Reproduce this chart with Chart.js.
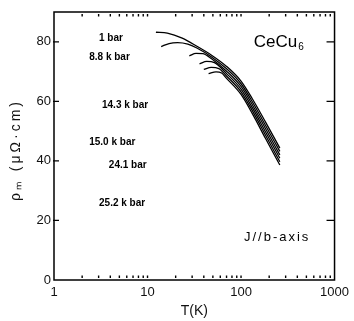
<!DOCTYPE html>
<html>
<head>
<meta charset="utf-8">
<script src="https://cdn.jsdelivr.net/npm/chart.js@4/dist/chart.umd.min.js"></script>
<style>
  html, body { margin: 0; padding: 0; background: #fff; }
</style>
</head>
<body>
<canvas id="rhoChart" width="354" height="321"></canvas>
<script>
// pressure labels, one per curve (top curve first)
const pressures = ["1 bar", "8.8 k bar", "14.3 k bar", "15.0 k bar", "24.1 bar", "25.2 k bar"];

// T (K) and rho_m (micro-ohm cm)
const temp1bar  = [12.3, 16.3, 23.5, 33.7, 48.4, 69.6, 100, 133, 183, 260];
const rho1bar   = [83.2, 82.9, 81.2, 78.5, 75.5, 71.8, 66.8, 60.7, 53.0, 44.3];
const temp8_8   = [14, 17, 21, 27, 33.7, 48.4, 69.6, 100, 133, 183, 260];
const rho8_8    = [78.4, 79.4, 79.7, 79.2, 77.9, 74.9, 71.0, 65.9, 59.7, 51.9, 43.2];
const temp14_3  = [28, 33, 39, 48.4, 69.6, 100, 133, 183, 260];
const rho14_3   = [75.3, 76.1, 76.0, 74.3, 70.2, 65.0, 58.7, 50.8, 42.0];
const temp15_0  = [36, 43, 52, 69.6, 100, 133, 183, 260];
const rho15_0   = [72.6, 73.4, 73.0, 69.4, 64.1, 57.7, 49.7, 40.9];
const temp24_1  = [40, 48, 58, 69.6, 100, 133, 183, 260];
const rho24_1   = [70.7, 71.4, 71.0, 68.6, 63.2, 56.7, 48.6, 39.7];
const temp25_2  = [45, 54, 62, 69.6, 100, 133, 183, 260];
const rho25_2   = [69.3, 69.9, 69.5, 67.8, 62.3, 55.7, 47.5, 38.6];

const temps = [temp1bar, temp8_8, temp14_3, temp15_0, temp24_1, temp25_2];
const rhos  = [rho1bar, rho8_8, rho14_3, rho15_0, rho24_1, rho25_2];

const xTicks = [1, 2, 3, 4, 5, 6, 7, 8, 9, 10, 20, 30, 40, 50, 60, 70, 80, 90,
                100, 200, 300, 400, 500, 600, 700, 800, 900, 1000];
const xLabels = [1, 10, 100, 1000];
const yTicks = [0, 20, 40, 60, 80];

const datasets = pressures.map((p, i) => ({
  label: p,
  data: temps[i].map((t, j) => ({ x: t, y: rhos[i][j] })),
  borderColor: '#000',
  borderWidth: 1.3,
  pointRadius: 0,
  cubicInterpolationMode: 'monotone',
  fill: false
}));

// text placed inside the plot, anchored in data units
const labelSpots = [[3.03, 81.2], [2.38, 74.8], [3.26, 58.7], [2.38, 46.3], [3.86, 38.6], [3.03, 25.8]];

const frameAndText = {
  id: 'frameAndText',
  afterDraw(chart) {
    const { ctx, chartArea: a, scales: { x, y } } = chart;
    ctx.save();
    ctx.strokeStyle = '#000';
    ctx.fillStyle = '#000';
    ctx.lineWidth = 1.5;
    ctx.strokeRect(a.left, a.top, a.right - a.left, a.bottom - a.top);

    // small inward ticks top and bottom
    xTicks.forEach(v => {
      const px = x.getPixelForValue(v);
      if (px <= a.left + 2 || px >= a.right - 2) return;
      ctx.fillRect(px - 0.7, a.top + 2, 1.4, 2.5);
      ctx.fillRect(px - 0.7, a.bottom - 4.5, 1.4, 2.5);
    });
    // y ticks inward on both sides
    ctx.lineWidth = 1.3;
    yTicks.forEach(v => {
      if (v === 0) return;
      const py = y.getPixelForValue(v);
      ctx.beginPath();
      ctx.moveTo(a.left - 1, py); ctx.lineTo(a.left + 5, py);
      ctx.moveTo(a.right, py); ctx.lineTo(a.right - 8, py);
      ctx.stroke();
    });

    // pressure labels
    ctx.font = 'bold 10px "Liberation Sans"';
    ctx.textBaseline = 'middle';
    ctx.textAlign = 'left';
    pressures.forEach((p, i) => {
      const [t, r] = labelSpots[i];
      ctx.fillText(p, x.getPixelForValue(t), y.getPixelForValue(r));
    });

    // compound name
    const cx = x.getPixelForValue(137), cy = y.getPixelForValue(79.9);
    ctx.font = '17px "Liberation Sans"';
    ctx.fillText('CeCu', cx, cy);
    const w = ctx.measureText('CeCu').width;
    ctx.font = '10px "Liberation Sans"';
    ctx.fillText('6', cx + w + 1, cy + 5);

    // current direction
    ctx.font = '13px "Liberation Sans"';
    ctx.letterSpacing = '2px';
    ctx.fillText('J//b-axis', x.getPixelForValue(107.5), y.getPixelForValue(14.4));

    // y axis title, spaced out like the scan
    ctx.translate(16.5, (a.top + a.bottom) / 2 + 4);
    ctx.rotate(-Math.PI / 2);
    ctx.textAlign = 'center';
    ctx.font = '14px "Liberation Sans"';
    ctx.letterSpacing = '3px';
    ctx.fillStyle = '#111';
    ctx.fillText('ρₘ (μΩ·cm)', 0, 0);
    ctx.restore();
  }
};

new Chart(document.getElementById('rhoChart'), {
  type: 'line',
  data: { datasets },
  options: {
    responsive: false,
    animation: false,
    devicePixelRatio: 1,
    layout: { padding: { top: 12, right: 14, left: 0, bottom: 0 } },
    plugins: { legend: { display: false }, tooltip: { enabled: false } },
    scales: {
      x: {
        type: 'logarithmic',
        min: 1,
        max: 1000,
        afterBuildTicks: (s) => { s.ticks = xTicks.map(v => ({ value: v })); },
        afterFit: (s) => { s.height = 41; },
        grid: { display: false, drawTicks: false },
        border: { display: false },
        ticks: {
          autoSkip: false,
          maxRotation: 0,
          padding: 5,
          color: '#111',
          font: { family: 'Liberation Sans', size: 13 },
          callback: (v) => xLabels.includes(v) ? String(v) : ''
        },
        title: {
          display: true,
          text: 'T(K)',
          color: '#111',
          font: { family: 'Liberation Sans', size: 14 },
          padding: { top: 0, bottom: 1 }
        }
      },
      y: {
        min: 0,
        max: 90,
        afterBuildTicks: (s) => { s.ticks = yTicks.map(v => ({ value: v })); },
        afterFit: (s) => { s.width = 54; },
        grid: { display: false, drawTicks: false },
        border: { display: false },
        ticks: {
          padding: 3,
          color: '#111',
          font: { family: 'Liberation Sans', size: 13 }
        },
        title: { display: false }
      }
    }
  },
  plugins: [frameAndText]
});
</script>
</body>
</html>
